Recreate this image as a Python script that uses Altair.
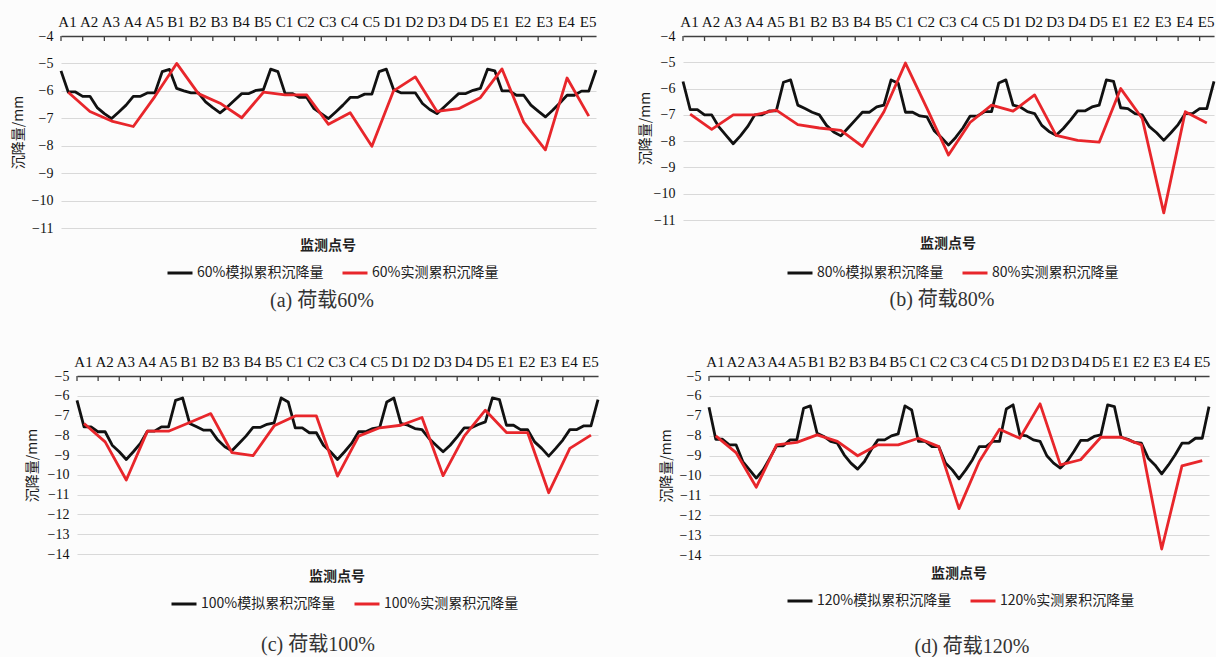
import altair as alt
import pandas as pd

labels = ["A1", "A2", "A3", "A4", "A5", "B1", "B2", "B3", "B4", "B5",
          "C1", "C2", "C3", "C4", "C5", "D1", "D2", "D3", "D4", "D5",
          "E1", "E2", "E3", "E4", "E5"]

# simulated settlement: 75 points (3 per monitoring point)
sim_60 = [-5.27, -6.04, -6.04, -6.2, -6.2, -6.61, -6.83, -7.01, -6.77, -6.52, -6.2, -6.2, -6.07, -6.07, -5.3,
          -5.22, -5.91, -6.0, -6.07, -6.07, -6.4, -6.61, -6.8, -6.59, -6.34, -6.1, -6.1, -5.98, -5.95, -5.21,
          -5.3, -6.1, -6.1, -6.24, -6.24, -6.65, -6.83, -7.01, -6.77, -6.52, -6.24, -6.24, -6.12, -6.12, -5.3,
          -5.21, -5.95, -6.07, -6.07, -6.07, -6.46, -6.68, -6.83, -6.59, -6.34, -6.1, -6.1, -5.98, -5.91, -5.21,
          -5.27, -6.0, -6.0, -6.16, -6.16, -6.52, -6.74, -6.95, -6.71, -6.44, -6.16, -6.16, -6.01, -6.01, -5.24]
meas_60 = [-6.05, -6.75, -7.1, -7.3, -6.2, -5.0, -6.1, -6.45, -6.98, -6.05, -6.15, -6.15, -7.22, -6.8, -8.02,
           -6.0, -5.49, -6.75, -6.65, -6.25, -5.2, -7.14, -8.15, -5.53, -6.92]

sim_80 = [-5.73, -6.8, -6.8, -7.0, -7.0, -7.46, -7.78, -8.1, -7.8, -7.45, -7.0, -7.0, -6.85, -6.85, -5.76,
          -5.67, -6.63, -6.76, -6.9, -7.0, -7.4, -7.65, -7.8, -7.5, -7.2, -6.9, -6.9, -6.7, -6.63, -5.67,
          -5.8, -6.9, -6.9, -7.04, -7.08, -7.6, -7.86, -8.15, -7.86, -7.5, -7.05, -7.05, -6.88, -6.88, -5.79,
          -5.67, -6.63, -6.7, -6.88, -6.95, -7.4, -7.63, -7.78, -7.52, -7.2, -6.85, -6.85, -6.7, -6.63, -5.67,
          -5.73, -6.73, -6.76, -6.95, -7.0, -7.45, -7.68, -7.97, -7.68, -7.37, -6.95, -6.95, -6.76, -6.76, -5.73]
meas_80 = [-6.97, -7.55, -7.0, -7.0, -6.82, -7.37, -7.5, -7.59, -8.2, -6.88, -5.03, -6.75, -8.53, -7.29, -6.63,
           -6.86, -6.24, -7.78, -7.97, -8.04, -6.0, -7.14, -10.73, -6.88, -7.31]

sim_100 = [-6.23, -7.57, -7.57, -7.82, -7.82, -8.5, -8.83, -9.22, -8.83, -8.41, -7.79, -7.79, -7.57, -7.57, -6.23,
           -6.11, -7.4, -7.57, -7.74, -7.74, -8.24, -8.58, -8.78, -8.41, -8.04, -7.6, -7.6, -7.44, -7.37, -6.11,
           -6.31, -7.62, -7.62, -7.87, -7.87, -8.5, -8.83, -9.22, -8.83, -8.41, -7.82, -7.82, -7.66, -7.6, -6.31,
           -6.11, -7.4, -7.49, -7.66, -7.71, -8.16, -8.5, -8.83, -8.5, -8.08, -7.62, -7.62, -7.45, -7.32, -6.11,
           -6.19, -7.49, -7.49, -7.71, -7.71, -8.33, -8.66, -9.05, -8.66, -8.24, -7.71, -7.71, -7.52, -7.52, -6.19]
meas_100 = [-7.4, -8.33, -10.26, -7.79, -7.79, -7.35, -6.9, -8.87, -9.03, -7.52, -7.02, -7.02, -10.06, -8.04, -7.62,
            -7.49, -7.1, -10.04, -8.04, -6.73, -7.86, -7.86, -10.9, -8.66, -7.99]

sim_120 = [-6.57, -8.18, -8.18, -8.46, -8.46, -9.3, -9.72, -10.13, -9.72, -9.13, -8.51, -8.51, -8.21, -8.21, -6.62,
           -6.5, -7.88, -8.04, -8.29, -8.38, -8.96, -9.38, -9.68, -9.3, -8.71, -8.21, -8.21, -8.01, -7.91, -6.5,
           -6.71, -8.29, -8.29, -8.55, -8.55, -9.38, -9.72, -10.17, -9.72, -9.21, -8.55, -8.55, -8.29, -8.29, -6.66,
           -6.45, -7.96, -8.01, -8.21, -8.29, -9.01, -9.38, -9.63, -9.3, -8.8, -8.24, -8.24, -8.04, -7.96, -6.45,
           -6.54, -8.08, -8.18, -8.34, -8.38, -9.13, -9.47, -9.92, -9.47, -8.96, -8.38, -8.38, -8.13, -8.13, -6.54]
meas_120 = [-8.01, -8.85, -10.59, -8.46, -8.34, -7.96, -8.29, -9.01, -8.46, -8.46, -8.13, -8.55, -11.67, -9.3, -7.68,
            -8.13, -6.4, -9.47, -9.21, -8.08, -8.08, -8.46, -13.7, -9.52, -9.25]

BLACK = "#111111"
RED = "#e8262b"
SERIF = "Liberation Serif"
CJK = "Noto Sans CJK SC"
XMAX = 74 / 3


def panel(sim, meas, pct, ydom, w, h, ytitle_x, xt_pos, leg_pos, caption, cap_pos, anchor=False):
    sim_name = f"{pct}模拟累积沉降量"
    meas_name = f"{pct}实测累积沉降量"
    n_sub = len(sim) // len(labels)
    df_sim = pd.DataFrame({"x": [i / n_sub for i in range(len(sim))], "y": sim, "s": sim_name})
    df_meas = pd.DataFrame({"x": [k + 1 / n_sub for k in range(len(meas))], "y": meas, "s": meas_name})
    df_tick = pd.DataFrame({"x": list(range(len(labels)))})

    yvals = list(range(ydom[1], ydom[0] - 1, -1))
    label_arr = "[" + ",".join(f"'{l}'" for l in labels) + "]"
    xaxis = alt.Axis(orient="top", values=list(range(len(labels))), labelExpr=f"{label_arr}[datum.value]",
                     labelOverlap=False, labelFlush=False, labelBound=False, ticks=False, grid=False,
                     domainColor="#404040", domainWidth=1.6, labelFont=SERIF, labelFontSize=15,
                     labelColor="#111111", labelPadding=7, labelOffset=6, title=None)
    yaxis = alt.Axis(values=yvals, grid=True, gridColor="#d9d9d9", gridWidth=1, domain=False, ticks=False,
                     labelOverlap=False, labelFlush=False, labelBound=False,
                     labelFont=SERIF, labelFontSize=14, labelColor="#111111", labelPadding=8,
                     title="沉降量/mm", titleFont=CJK, titleFontSize=14, titleFontWeight="normal",
                     titleColor="#1a1a1a", titleX=ytitle_x, titleY=h / 2, titleAngle=270,
                     titleAlign="center", titleBaseline="middle")
    xs = alt.Scale(domain=[0, XMAX], nice=False, zero=False)
    ys = alt.Scale(domain=list(ydom), nice=False, zero=False)
    cs = alt.Scale(domain=[sim_name, meas_name], range=[BLACK, RED])
    legend = alt.Legend(orient="none", legendX=leg_pos[0], legendY=leg_pos[1], direction="horizontal",
                        title=None, symbolType="stroke", symbolSize=625, symbolStrokeWidth=3,
                        labelFont=CJK, labelFontSize=14, labelColor="#222222", columnPadding=12,
                        labelOffset=3, padding=0, labelLimit=300)

    enc = dict(x=alt.X("x:Q", scale=xs, axis=xaxis), y=alt.Y("y:Q", scale=ys, axis=yaxis),
               color=alt.Color("s:N", scale=cs, legend=legend))
    black = alt.Chart(df_sim).mark_line(strokeWidth=2.8, strokeJoin="round").encode(**enc)
    red = alt.Chart(df_meas).mark_line(strokeWidth=2.8, strokeJoin="round").encode(**enc)
    ticks = alt.Chart(df_tick).mark_rule(color="#404040", strokeWidth=1.3).encode(
        x=alt.X("x:Q", scale=xs, axis=xaxis), y=alt.value(0), y2=alt.value(5))
    xt = alt.Chart(pd.DataFrame({"t": ["监测点号"]})).mark_text(
        font=CJK, fontSize=14, fontWeight="bold", color="#222222", align="center", baseline="middle").encode(
        x=alt.value(xt_pos[0]), y=alt.value(xt_pos[1]), text="t:N")
    cap = alt.Chart(pd.DataFrame({"t": [caption]})).mark_text(
        font=f"{SERIF}, {CJK}", fontSize=20, color="#333333", align="center", baseline="middle").encode(
        x=alt.value(cap_pos[0]), y=alt.value(cap_pos[1]), text="t:N")
    layers = [black, red, ticks, xt, cap]
    if anchor:
        layers.append(alt.Chart(pd.DataFrame({"a": [0]})).mark_rect(opacity=0).encode(
            x=alt.value(-61), x2=alt.value(-60), y=alt.value(-36), y2=alt.value(-35)))
    return alt.layer(*layers).properties(width=w, height=h)


pa = panel(sim_60, meas_60, "60%", (-11, -4), 535, 192, -43, (267, 210), (105, 223), "(a) 荷载60%", (261, 265), anchor=True)
pb = panel(sim_80, meas_80, "80%", (-11, -4), 531, 184, -38, (265, 208), (103, 223), "(b) 荷载80%", (259, 264))
pc = panel(sim_100, meas_100, "100%", (-14, -5), 521, 178, -45, (260, 201), (93, 214), "(c) 荷载100%", (241, 269))
pd_ = panel(sim_120, meas_120, "120%", (-14, -5), 500, 179, -43, (250, 198), (77, 211), "(d) 荷载120%", (263, 271))

spacer = alt.Chart(pd.DataFrame({"a": [0]})).mark_point(opacity=0).encode(
    x=alt.value(0), y=alt.value(0)).properties(width=16, height=10)

# with flush bounds a nested concat counts as zero-size, so spacings include the panel extents
row1 = alt.hconcat(pa, pb, spacing=87, bounds="flush").resolve_scale(color="independent")
row2_left = alt.hconcat(spacer, pc, spacing=0, bounds="flush").resolve_scale(color="independent")
row2 = alt.hconcat(row2_left, pd_, spacing=648, bounds="flush").resolve_scale(color="independent")

chart = alt.vconcat(row1, row2, spacing=340, bounds="flush").resolve_scale(color="independent").properties(
    padding=0, background="#fcfcfc"
).configure_view(stroke=None)

chart.save("out.html", embed_options={"renderer": "svg", "actions": False})
